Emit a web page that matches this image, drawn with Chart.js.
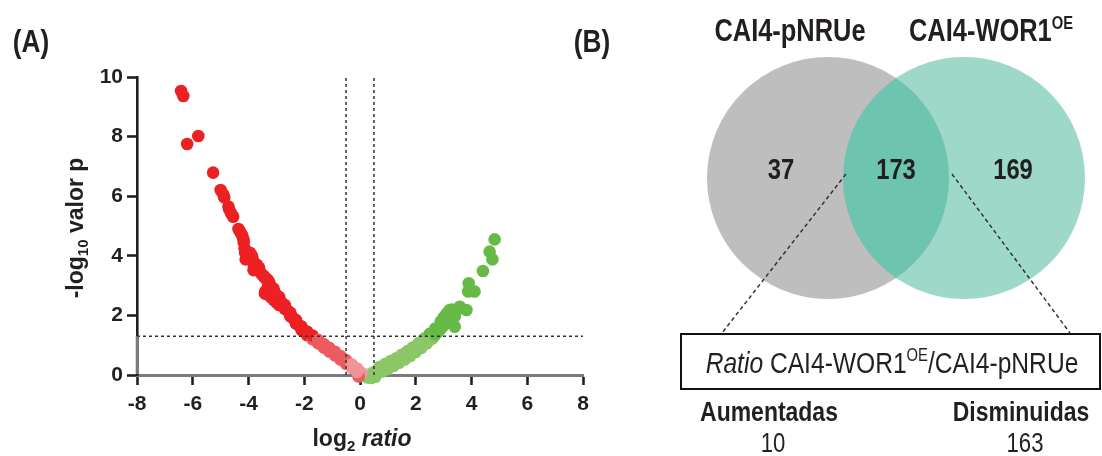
<!DOCTYPE html>
<html>
<head>
<meta charset="utf-8">
<script src="https://cdn.jsdelivr.net/npm/chart.js@4.4.1/dist/chart.umd.min.js"></script>
<style>
  html, body { margin: 0; padding: 0; background: #fff; }
  #wrap { position: relative; width: 1102px; height: 456px; }
  canvas { position: absolute; top: 0; }
  #volcano { left: 0; }
  #venn { left: 560px; }
</style>
</head>
<body>
<div id="wrap">
  <canvas id="volcano" width="600" height="456"></canvas>
  <canvas id="venn" width="542" height="456"></canvas>
</div>
<script>
// ---------- data ----------
const xTicks = [-8, -6, -4, -2, 0, 2, 4, 6, 8];
const yTicks = [0, 2, 4, 6, 8, 10];
const pCutoff = 1.3;          // -log10(0.05)
const ratioCutoffs = [-0.5, 0.5];

// [log2 ratio, -log10 p]  down-regulated side
const redPoints = [
  [-6.42, 9.53], [-6.34, 9.36], [-6.2, 7.75], [-5.8, 8.02], [-5.27, 6.79],
  [-5.0, 6.21], [-4.9, 6.05], [-4.87, 5.96], [-4.72, 5.65], [-4.69, 5.55],
  [-4.62, 5.42], [-4.55, 5.31], [-4.36, 4.9], [-4.3, 4.8], [-4.23, 4.69],
  [-4.18, 4.55], [-4.17, 4.45], [-4.14, 4.25], [-4.12, 4.1], [-4.1, 3.88],
  [-3.95, 4.1], [-3.89, 4.02], [-3.85, 3.9], [-3.82, 3.78], [-3.8, 3.65],
  [-3.82, 3.52], [-3.7, 3.7], [-3.62, 3.6], [-3.58, 3.45], [-3.5, 3.35],
  [-3.45, 3.32], [-3.41, 2.73], [-3.4, 2.8], [-3.3, 2.7], [-3.2, 2.62],
  [-3.1, 2.52], [-3.0, 2.43], [-2.9, 2.35], [-3.35, 3.22], [-3.25, 3.1],
  [-3.4, 3.25], [-3.3, 3.1], [-3.2, 2.97], [-3.1, 2.83], [-3.0, 2.69],
  [-2.9, 2.55], [-2.8, 2.42], [-2.7, 2.29], [-2.6, 2.16], [-2.5, 2.03],
  [-2.4, 1.91], [-2.3, 1.79], [-2.2, 1.68], [-2.1, 1.57], [-2.0, 1.48],
  [-1.9, 1.4], [-1.8, 1.33], [-1.7, 1.26], [-1.6, 1.19], [-1.5, 1.12],
  [-1.4, 1.05], [-1.3, 0.98], [-1.2, 0.91], [-1.1, 0.85], [-1.0, 0.79],
  [-0.9, 0.72], [-0.8, 0.65], [-0.7, 0.58], [-0.6, 0.51], [-0.5, 0.44],
  [-0.4, 0.37], [-0.3, 0.3], [-0.2, 0.23], [-0.1, 0.16], [0.0, 0.1],
  [0.05, 0.05], [-0.05, -0.05],
  [-3.3, 2.95], [-3.1, 2.72], [-2.9, 2.47], [-2.7, 2.22], [-2.5, 1.97],
  [-2.3, 1.73], [-2.1, 1.51], [-1.9, 1.34], [-1.7, 1.2], [-1.5, 1.06],
  [-1.3, 0.92], [-1.1, 0.79], [-0.9, 0.66], [-0.7, 0.52], [-0.5, 0.38],
  [-0.3, 0.24], [-0.1, 0.1],
  [-3.3, 3.18], [-3.1, 2.9], [-2.9, 2.62], [-2.7, 2.35], [-2.5, 2.09],
  [-2.3, 1.85], [-2.1, 1.63], [-1.9, 1.46], [-1.7, 1.32], [-1.5, 1.18],
  [-1.3, 1.04], [-1.1, 0.91], [-0.9, 0.78], [-0.7, 0.64], [-0.5, 0.5],
  [-0.3, 0.36], [-0.1, 0.22]
];

// up-regulated side
const greenPoints = [
  [0.0, -0.02], [0.1, -0.02], [0.2, 0.0], [0.3, 0.02], [0.4, 0.05],
  [0.25, -0.08], [0.4, -0.1], [0.55, -0.06],
  [0.5, 0.09], [0.6, 0.13], [0.7, 0.17], [0.8, 0.21], [0.9, 0.26],
  [1.0, 0.3], [1.1, 0.35], [1.2, 0.4], [1.3, 0.46], [1.4, 0.51],
  [1.5, 0.57], [1.6, 0.62], [1.7, 0.68], [1.8, 0.74], [1.9, 0.81],
  [2.0, 0.88], [2.1, 0.95], [2.2, 1.02], [2.3, 1.1], [2.4, 1.19],
  [2.5, 1.28], [2.6, 1.37], [2.7, 1.47], [2.8, 1.57], [2.9, 1.68],
  [3.0, 1.8], [3.1, 1.92], [3.2, 2.05],
  [0.7, 0.27], [0.9, 0.37], [1.1, 0.47], [1.3, 0.56], [1.5, 0.68],
  [1.7, 0.8], [1.9, 0.93], [2.1, 1.07], [2.3, 1.22], [2.5, 1.38],
  [2.7, 1.56], [0.8, 0.12], [1.0, 0.2], [1.2, 0.3], [1.4, 0.41],
  [1.6, 0.52], [1.8, 0.64], [2.0, 0.77], [2.2, 0.91], [2.4, 1.06],
  [2.6, 1.22],
  [2.7, 1.36], [2.8, 1.45], [2.9, 1.55], [3.0, 1.66], [3.1, 1.76],
  [3.2, 1.85], [3.3, 1.92], [3.4, 1.97], [2.9, 1.8], [3.0, 1.93],
  [3.1, 2.05], [3.2, 2.14], [3.3, 2.2],
  [3.22, 2.18], [3.4, 1.62], [3.5, 2.2], [3.58, 2.29], [3.82, 2.18],
  [3.88, 2.8], [3.9, 3.08], [4.11, 2.8], [4.41, 3.49], [4.65, 4.14],
  [4.75, 3.88], [4.83, 4.55]
];

// Venn
const vennSets = ["CAI4-pNRUe", "CAI4-WOR1"];
const vennOnly = [37, 169];
const vennShared = 173;
const ratioGroups = ["Aumentadas", "Disminuidas"];
const ratioCounts = [10, 163];

// ---------- helpers ----------
const SANS = '"Liberation Sans", Arial, sans-serif';
const INK = "#231f20";
const NARROW = 0.82;   // condensed look of the figure's font

// draw text made of several runs (sub/superscripts), centred on cx,
// squeezed horizontally by sx
function drawRuns(ctx, runs, cx, cy, sx) {
  sx = sx || 1;
  let total = 0;
  runs.forEach(r => { ctx.font = r.font; r.w = ctx.measureText(r.text).width; total += r.w; });
  ctx.save();
  ctx.translate(cx, cy);
  ctx.scale(sx, 1);
  let x = -total / 2;
  ctx.textBaseline = "alphabetic";
  ctx.textAlign = "left";
  runs.forEach(r => {
    ctx.font = r.font;
    ctx.fillText(r.text, x, r.dy || 0);
    x += r.w;
  });
  ctx.restore();
}

function dotColor(strong, weak, pale) {
  return ctx => {
    const p = ctx.raw;
    if (!p) return strong;
    if (p.y >= pCutoff) return strong;
    if (p.x > ratioCutoffs[0] && p.x < ratioCutoffs[1] && p.y > 0) return pale;
    return weak;
  };
}

// ---------- (A) volcano ----------
const volcanoDecor = {
  id: "volcanoDecor",
  afterDatasetsDraw(chart) {
    const { ctx, scales: { x, y } } = chart;
    ctx.save();
    ctx.strokeStyle = "#333";
    ctx.lineWidth = 1.5;
    ctx.setLineDash([3, 3]);
    ctx.beginPath();
    ctx.moveTo(x.getPixelForValue(-8), y.getPixelForValue(pCutoff));
    ctx.lineTo(x.getPixelForValue(8), y.getPixelForValue(pCutoff));
    ratioCutoffs.forEach(v => {
      ctx.moveTo(x.getPixelForValue(v), y.getPixelForValue(0));
      ctx.lineTo(x.getPixelForValue(v), y.getPixelForValue(10));
    });
    ctx.stroke();
    ctx.setLineDash([]);
    // lower part of the y axis is grey in the figure
    ctx.strokeStyle = "#7a7a7a";
    ctx.lineWidth = 2.6;
    ctx.beginPath();
    ctx.moveTo(x.left, y.getPixelForValue(0) - 1);
    ctx.lineTo(x.left, y.getPixelForValue(pCutoff));
    ctx.stroke();
    ctx.restore();
  },
  afterDraw(chart) {
    const { ctx } = chart;
    ctx.save();
    ctx.fillStyle = INK;
    drawRuns(ctx, [{ text: "(A)", font: "bold 32px " + SANS }], 31, 52, NARROW);
    ctx.translate(83, 228);
    ctx.rotate(-Math.PI / 2);
    drawRuns(ctx, [
      { text: "-log", font: "bold 23px " + SANS },
      { text: "10", font: "bold 15px " + SANS, dy: 5 },
      { text: " valor p", font: "bold 23px " + SANS }
    ], 0, 0);
    ctx.restore();
    ctx.save();
    ctx.fillStyle = INK;
    drawRuns(ctx, [
      { text: "log", font: "bold 23px " + SANS },
      { text: "2", font: "bold 15px " + SANS, dy: 5 },
      { text: " ", font: "bold 23px " + SANS },
      { text: "ratio", font: "italic bold 23px " + SANS }
    ], 362, 446);
    ctx.restore();
  }
};

new Chart(document.getElementById("volcano"), {
  type: "scatter",
  data: {
    datasets: [
      {
        data: redPoints.map(p => ({ x: p[0], y: p[1] })),
        backgroundColor: dotColor("#ed2024", "#eb5b5f", "#f29396"),
        pointRadius: 6.3, pointHoverRadius: 6.3, borderWidth: 0, clip: false
      },
      {
        data: greenPoints.map(p => ({ x: p[0], y: p[1] })),
        backgroundColor: dotColor("#66bb46", "#8cc767", "#a9d89c"),
        pointRadius: 6.3, pointHoverRadius: 6.3, borderWidth: 0, clip: false
      }
    ]
  },
  options: {
    responsive: false,
    animation: false,
    events: [],
    layout: { padding: { left: 0, right: 17, top: 77, bottom: 0 } },
    plugins: { legend: { display: false }, tooltip: { enabled: false } },
    scales: {
      x: {
        type: "linear", min: -8, max: 8,
        afterBuildTicks: s => { s.ticks = xTicks.map(v => ({ value: v })); },
        afterFit: s => { s.height = 81; },
        ticks: { color: INK, padding: 7, font: { family: SANS, size: 21, weight: "bold" } },
        grid: { drawOnChartArea: false, drawTicks: true, tickLength: 10, tickWidth: 2.6, tickColor: INK },
        border: { display: true, color: "#7a7a7a", width: 3 }
      },
      y: {
        type: "linear", min: 0, max: 10,
        afterBuildTicks: s => { s.ticks = yTicks.map(v => ({ value: v })); },
        afterFit: s => { s.width = 137; },
        ticks: { color: INK, padding: 4, font: { family: SANS, size: 21, weight: "bold" } },
        grid: { drawOnChartArea: false, drawTicks: true, tickLength: 10, tickWidth: 2.6, tickColor: INK },
        border: { display: true, color: INK, width: 2.6 }
      }
    }
  },
  plugins: [volcanoDecor]
});

// ---------- (B) Venn ----------
// circle centres / radii in canvas pixels (the scales below map 1:1)
const vennLayout = {
  left: { x: 268, y: 178, r: 121 },
  right: { x: 404, y: 178, r: 121 }
};
const VENN_PAD = 130; // larger than the bubble overflow, so the chart area is known

const vennDecor = {
  id: "vennDecor",
  afterDatasetsDraw(chart) {
    const ctx = chart.ctx;
    const a = chart.getDatasetMeta(0).data[0];
    const b = chart.getDatasetMeta(1).data[0];
    const ra = a.options.radius, rb = b.options.radius;
    // overlap lens
    ctx.save();
    ctx.beginPath();
    ctx.arc(a.x, a.y, ra, 0, Math.PI * 2);
    ctx.clip();
    ctx.beginPath();
    ctx.arc(b.x, b.y, rb, 0, Math.PI * 2);
    ctx.fillStyle = "#6dc4af";
    ctx.fill();
    ctx.restore();

    ctx.save();
    ctx.fillStyle = INK;
    drawRuns(ctx, [{ text: "(B)", font: "bold 32px " + SANS }], 32, 52, NARROW);

    // set titles
    drawRuns(ctx, [{ text: vennSets[0], font: "bold 31px " + SANS }], a.x - 38, 41, NARROW);
    drawRuns(ctx, [
      { text: vennSets[1], font: "bold 31px " + SANS },
      { text: "OE", font: "bold 18px " + SANS, dy: -12 }
    ], b.x + 27, 41, NARROW);

    // counts
    const cy = a.y;
    const lensL = b.x - rb, lensR = a.x + ra;
    const numFont = "bold 29px " + SANS;
    drawRuns(ctx, [{ text: String(vennOnly[0]), font: numFont }], (a.x - ra + lensL) / 2 + 6, cy + 1, NARROW);
    drawRuns(ctx, [{ text: String(vennShared), font: numFont }], (lensL + lensR) / 2, cy + 1, NARROW);
    drawRuns(ctx, [{ text: String(vennOnly[1]), font: numFont }], (lensR + b.x + rb) / 2 - 4, cy + 1, NARROW);

    // dashed connectors to the box
    ctx.strokeStyle = "#333";
    ctx.lineWidth = 1.5;
    ctx.setLineDash([4, 3]);
    ctx.beginPath();
    ctx.moveTo(lensL + 3, cy - 4);
    ctx.lineTo(162, 333);
    ctx.moveTo(lensR + 3, cy - 4);
    ctx.lineTo(510, 333);
    ctx.stroke();
    ctx.setLineDash([]);

    // ratio box
    ctx.fillStyle = "#fff";
    ctx.fillRect(121, 334, 419, 55);
    ctx.strokeStyle = "#111";
    ctx.lineWidth = 2;
    ctx.strokeRect(121, 334, 419, 55);
    ctx.fillStyle = INK;
    drawRuns(ctx, [
      { text: "Ratio", font: "italic 30px " + SANS },
      { text: " CAI4-WOR1", font: "30px " + SANS },
      { text: "OE", font: "18px " + SANS, dy: -12 },
      { text: "/CAI4-pNRUe", font: "30px " + SANS }
    ], 332, 373, NARROW);

    // up / down counts
    drawRuns(ctx, [{ text: ratioGroups[0], font: "bold 28px " + SANS }], 209, 421, NARROW);
    drawRuns(ctx, [{ text: String(ratioCounts[0]), font: "27px " + SANS }], 213, 452, NARROW);
    drawRuns(ctx, [{ text: ratioGroups[1], font: "bold 28px " + SANS }], 461, 421, NARROW);
    drawRuns(ctx, [{ text: String(ratioCounts[1]), font: "27px " + SANS }], 465, 452, NARROW);
    ctx.restore();
  }
};

new Chart(document.getElementById("venn"), {
  type: "bubble",
  data: {
    datasets: [
      { data: [vennLayout.left], backgroundColor: "#bebebe", borderWidth: 0, clip: false },
      { data: [vennLayout.right], backgroundColor: "#9ed8c9", borderWidth: 0, clip: false }
    ]
  },
  options: {
    responsive: false,
    animation: false,
    events: [],
    layout: { padding: VENN_PAD },
    plugins: { legend: { display: false }, tooltip: { enabled: false } },
    scales: {
      x: { type: "linear", min: VENN_PAD, max: 542 - VENN_PAD, display: false },
      y: { type: "linear", min: VENN_PAD, max: 456 - VENN_PAD, reverse: true, display: false }
    }
  },
  plugins: [vennDecor]
});
</script>
</body>
</html>
